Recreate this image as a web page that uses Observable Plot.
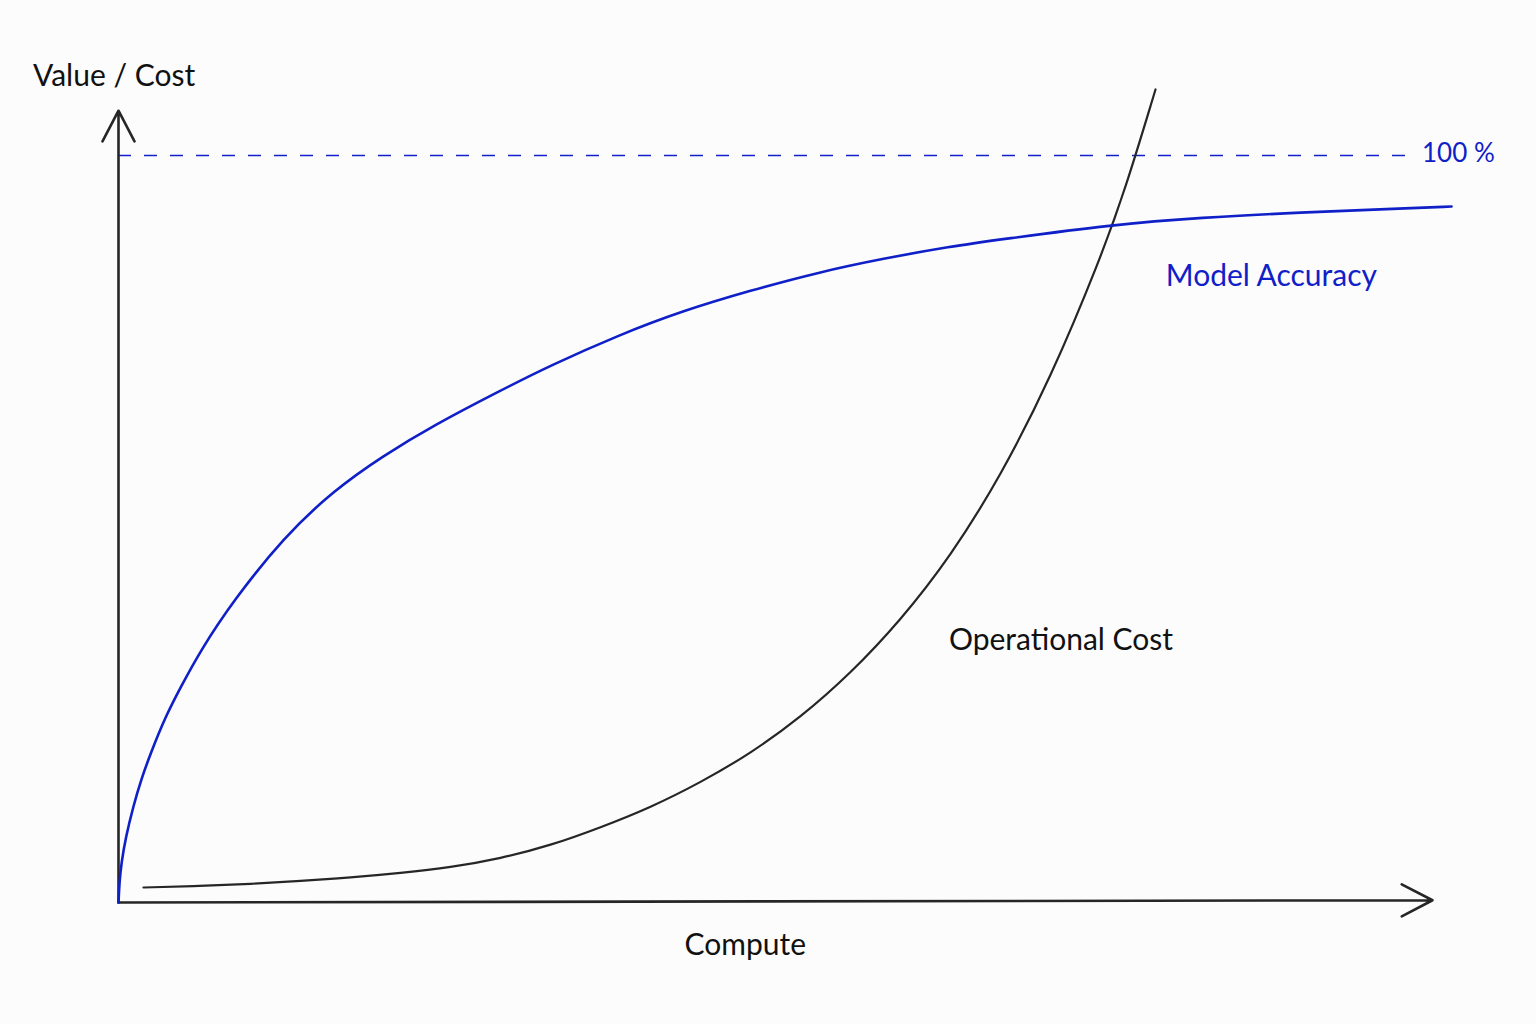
<!DOCTYPE html>
<html>
<head>
<meta charset="utf-8">
<script src="https://cdn.jsdelivr.net/npm/d3@7"></script>
<script src="https://cdn.jsdelivr.net/npm/@observablehq/plot@0.6"></script>
<style>
  html, body { margin: 0; padding: 0; background: #fcfcfc; }
  #chart svg { display: block; }
</style>
</head>
<body>
<div id="chart"></div>
<script>
// Compute (x, 0–100) vs Value / Cost (y, 100 = "100 %")
const accuracyX = [0, 0.08, 0.23, 0.53, 1.14, 1.75, 2.44, 3.58, 4.72, 6.24, 8.75, 12.56, 16.36, 20.17, 23.97, 29.07, 32.88, 37.98, 43.0, 48.1, 53.2, 58.22, 63.32, 67.12, 75.72, 82.34, 89.95, 97.56, 101.45];
const accuracyY = [0, 2.95, 5.35, 8.57, 12.99, 16.6, 19.95, 24.9, 28.78, 33.73, 40.43, 48.86, 55.15, 59.84, 63.86, 68.54, 71.89, 75.9, 79.25, 81.93, 84.34, 86.21, 87.82, 88.76, 90.76, 91.7, 92.37, 92.9, 93.17];

const costX = [1.9, 6.24, 10.05, 13.85, 17.66, 21.46, 25.27, 29.07, 32.88, 36.68, 40.49, 44.29, 48.1, 51.9, 55.71, 59.51, 63.32, 67.12, 70.93, 74.73, 76.64, 78.92];
const costY = [2.01, 2.21, 2.48, 2.88, 3.35, 3.95, 4.69, 5.89, 7.63, 10.04, 12.72, 16.06, 19.95, 24.77, 30.66, 37.75, 46.32, 57.03, 70.15, 86.21, 95.58, 108.84];

const targetLevel = [100];          // dashed "100 %" line
const targetExtent = [0, 98.2];
const axisXEnd = [100, 0.3];        // x axis arrow end (compute, value)
const axisYEnd = [0, 106];          // y axis arrow end

const labelTexts = ["Value / Cost", "Compute", "100 %", "Model Accuracy", "Operational Cost"];
const labelX = [-6.5, 47.7, 99.2, 79.7, 63.2];
const labelY = [110.6, -5.8, 100.2, 83.8, 35.1];

const blue = "#1020c8";
const ink = "#262626";

const accuracy = accuracyX.map((x, i) => ({x, y: accuracyY[i]}));
const cost = costX.map((x, i) => ({x, y: costY[i]}));
const axes = [
  {x1: 0, y1: 0, x2: axisXEnd[0], y2: axisXEnd[1]},
  {x1: 0, y1: 0, x2: axisYEnd[0], y2: axisYEnd[1]}
];
const labels = labelTexts.map((t, i) => ({t, x: labelX[i], y: labelY[i], i}));

const font = "Lato, 'Noto Sans', sans-serif";

const chart = Plot.plot({
  width: 1536,
  height: 1024,
  marginLeft: 118,
  marginRight: 104,
  marginTop: 155,
  marginBottom: 122,
  x: {domain: [0, 100], axis: null},
  y: {domain: [0, 100], axis: null},
  style: {background: "#fcfcfc", fontFamily: font},
  marks: [
    Plot.ruleY(targetLevel, {x1: targetExtent[0], x2: targetExtent[1], stroke: blue, strokeWidth: 1.6, strokeDasharray: "13,13"}),
    Plot.arrow(axes, {x1: "x1", y1: "y1", x2: "x2", y2: "y2", stroke: ink, strokeWidth: 2.6, headLength: 20, headAngle: 55}),
    Plot.line(cost, {x: "x", y: "y", curve: "basis", stroke: ink, strokeWidth: 2.2}),
    Plot.line(accuracy, {x: "x", y: "y", curve: "basis", stroke: blue, strokeWidth: 2.6}),
    Plot.text(labels.filter(d => d.i === 0), {x: "x", y: "y", text: "t", textAnchor: "start", lineAnchor: "middle", fontSize: 30, fill: "#111"}),
    Plot.text(labels.filter(d => d.i === 1), {x: "x", y: "y", text: "t", textAnchor: "middle", lineAnchor: "middle", fontSize: 30, fill: "#111"}),
    Plot.text(labels.filter(d => d.i === 2), {x: "x", y: "y", text: "t", textAnchor: "start", lineAnchor: "middle", fontSize: 26, fill: blue}),
    Plot.text(labels.filter(d => d.i === 3), {x: "x", y: "y", text: "t", textAnchor: "start", lineAnchor: "middle", fontSize: 30, fill: blue}),
    Plot.text(labels.filter(d => d.i === 4), {x: "x", y: "y", text: "t", textAnchor: "start", lineAnchor: "middle", fontSize: 30, fill: "#111"})
  ]
});
document.getElementById("chart").append(chart);
</script>
</body>
</html>
